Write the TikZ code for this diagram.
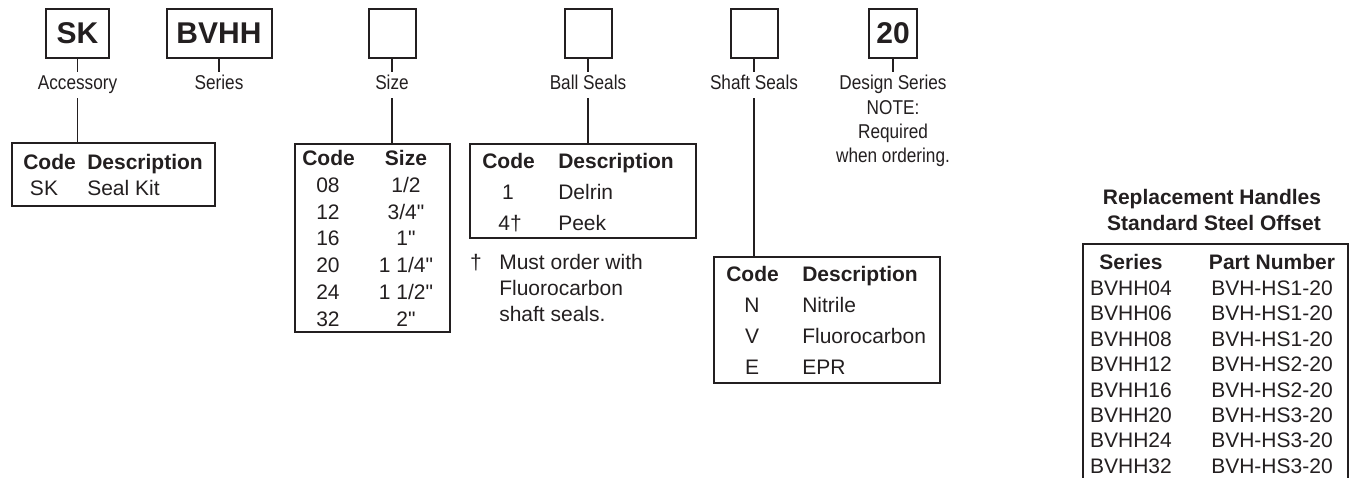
\documentclass[tikz,border=0pt]{standalone}
\usepackage{fontspec}
\setmainfont{Liberation Sans}[Ligatures=TeXOff]
\newfontfamily\condf[FakeStretch=0.86]{Liberation Sans}
\definecolor{ink}{HTML}{231F20}
\tikzset{
  topbox/.style={draw=ink, line width=1.5pt, inner sep=0pt, minimum height=36.75pt,
    font=\fontsize{22.5}{27}\selectfont\bfseries, text=ink},
  lbl/.style={inner xsep=0pt, inner ysep=2.8pt, text height=10.7pt, text depth=3.2pt,
    font=\condf\fontsize{15}{18}\selectfont, text=ink, anchor=base},
  conn/.style={draw=ink, line width=1.4pt},
  tabbox/.style={draw=ink, line width=1.2pt, inner sep=0pt},
  th/.style={font=\fontsize{15.75}{18}\selectfont\bfseries, text=ink, inner sep=0pt},
  td/.style={font=\fontsize{15.75}{18}\selectfont, text=ink, inner sep=0pt},
}
\begin{document}
\begin{tikzpicture}[x=0.75pt,y=-0.75pt]
\useasboundingbox (0,0) rectangle (1354,478);
\begin{scope}
\clip (0,0) rectangle (1354,478);
% top boxes
\node[topbox, minimum width=47.25pt] (sk) at (77.5,33.5) {SK};
\node[topbox, minimum width=78.75pt] (bvhh) at (219,33.5) {BVHH};
\node[topbox, minimum width=35.25pt] (szb) at (392,33.5) {};
\node[topbox, minimum width=35.25pt] (bsb) at (588,33.5) {};
\node[topbox, minimum width=35.25pt] (ssb) at (754,33.5) {};
\node[topbox, minimum width=36pt] (dsb) at (893,33.5) {20};
% labels
\node[lbl] (acc) at (77.5,90) {Accessory};
\node[lbl] (ser) at (219,90) {Series};
\node[lbl] (szl) at (392,90) {Size};
\node[lbl] (bsl) at (588,90) {Ball Seals};
\node[lbl] (ssl) at (754,90) {Shaft Seals};
\node[lbl] (dsl) at (893,90) {Design Series};
\node[lbl] (note1) at (893,114) {NOTE:};
\node[lbl] (note2) at (893,138) {Required};
\node[lbl] (note3) at (893,162) {when ordering.};
% tables
\node[tabbox, minimum width=152.25pt, minimum height=47.25pt] (acctab) at (113.5,174.5) {};
\node[tabbox, minimum width=116.25pt, minimum height=141pt] (sztab) at (372.5,238) {};
\node[tabbox, minimum width=169.5pt, minimum height=70.5pt] (bstab) at (583,191) {};
\node[tabbox, minimum width=169.5pt, minimum height=94.5pt] (sstab) at (827,320) {};
\node[tabbox, minimum width=198.75pt, minimum height=207pt] (rtab) at (1215.5,382) {};
% connectors
\draw[conn] (sk.south) -- (acc.north);
\draw[conn] (bvhh.south) -- (ser.north);
\draw[conn] (szb.south) -- (szl.north);
\draw[conn] (bsb.south) -- (bsl.north);
\draw[conn] (ssb.south) -- (ssl.north);
\draw[conn] (dsb.south) -- (dsl.north);
\draw[conn] (acc.south) -- (acc.south |- acctab.north);
\draw[conn] (szl.south) -- (szl.south |- sztab.north);
\draw[conn] (bsl.south) -- (bsl.south |- bstab.north);
\draw[conn] (ssl.south) -- (ssl.south |- sstab.north);
% accessory table
\node[th, anchor=base west] (ah1) at (23,170) {Code};
\node[th, anchor=base west] (ah2) at (87,170) {Description};
\node[td, anchor=base] (ac1) at (44,195.5) {SK};
\node[td, anchor=base west] (ad1) at (87,195.5) {Seal Kit};
% size table
\node[th, anchor=base west] (sh1) at (302,165.5) {Code};
\node[th, anchor=base] (sh2) at (406,165.5) {Size};
\foreach \c/\s/\y [count=\i] in {08/{1/2}/192.5, 12/{3/4"}/219.5, 16/{1"}/245.5,
    20/{1 1/4"}/272.5, 24/{1 1/2"}/299.5, 32/{2"}/326.5}{
  \node[td, anchor=base] (sc\i) at (328,\y) {\c};
  \node[td, anchor=base] (sv\i) at (406,\y) {\s};
}
% ball seals table
\node[th, anchor=base west] (bh1) at (482,168.5) {Code};
\node[th, anchor=base west] (bh2) at (558,168.5) {Description};
\node[td, anchor=base] (bc1) at (508,199.5) {1};
\node[td, anchor=base west] (bd1) at (558,199.5) {Delrin};
\node[td, anchor=base] (bc2) at (510,230.5) {4†};
\node[td, anchor=base west] (bd2) at (558,230.5) {Peek};
% footnote
\node[td, anchor=base] (fdag) at (476,269.5) {†};
\node[td, anchor=base west] (fn1) at (499,269.5) {Must order with};
\node[td, anchor=base west] (fn2) at (499,295.5) {Fluorocarbon};
\node[td, anchor=base west] (fn3) at (499,321.5) {shaft seals.};
% shaft seals table
\node[th, anchor=base west] (hh1) at (726,281.5) {Code};
\node[th, anchor=base west] (hh2) at (802,281.5) {Description};
\node[td, anchor=base] (hc1) at (752,312.5) {N};
\node[td, anchor=base west] (hd1) at (802,312.5) {Nitrile};
\node[td, anchor=base] (hc2) at (752,343.5) {V};
\node[td, anchor=base west] (hd2) at (802,343.5) {Fluorocarbon};
\node[td, anchor=base] (hc3) at (752,374.5) {E};
\node[td, anchor=base west] (hd3) at (802,374.5) {EPR};
% replacement handles
\node[th, anchor=base] (rt1) at (1212,204) {Replacement Handles};
\node[th, anchor=base] (rt2) at (1214,230) {Standard Steel Offset};
\node[th, anchor=base] (rh1) at (1131,269.5) {Series};
\node[th, anchor=base] (rh2) at (1272,269.5) {Part Number};
\foreach \s/\p/\y [count=\i] in {04/1/295.5, 06/1/320.5, 08/1/346.5, 12/2/371.5,
    16/2/397.5, 20/3/422.5, 24/3/447.5, 32/3/473.5}{
  \node[td, anchor=base] (rs\i) at (1131,\y) {BVHH\s};
  \node[td, anchor=base] (rp\i) at (1272,\y) {BVH-HS\p-20};
}
\end{scope}
\end{tikzpicture}
\end{document}
